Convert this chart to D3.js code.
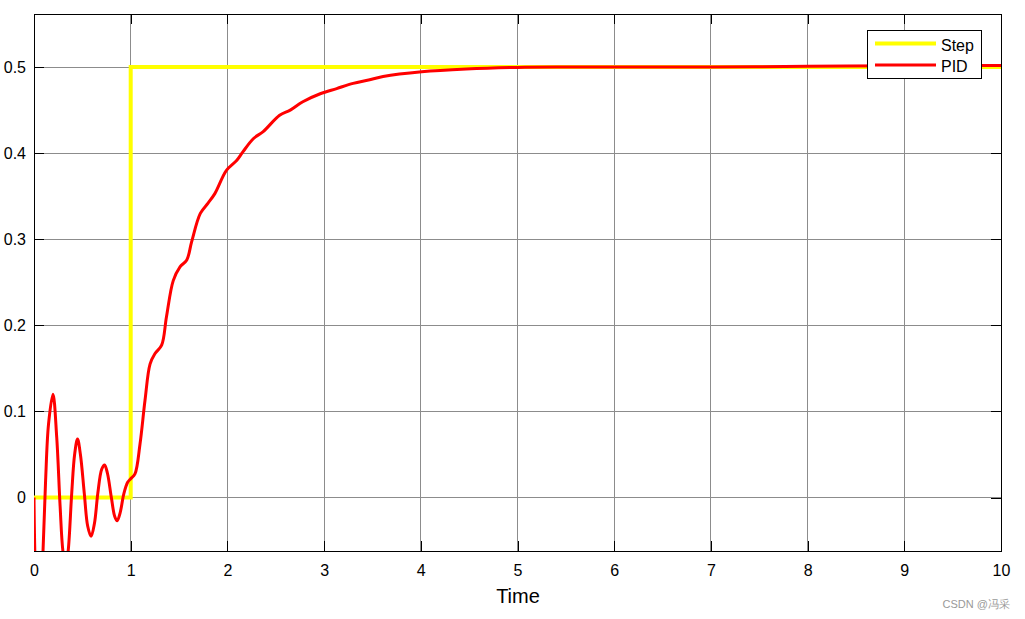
<!DOCTYPE html>
<html><head><meta charset="utf-8">
<script src="https://cdn.jsdelivr.net/npm/d3@7"></script>
<style>body{margin:0;background:#fff}svg{display:block}text{font-family:"Liberation Sans",Arial,sans-serif}</style>
</head><body><svg id="c" width="1025" height="619"></svg>
<script>
const xTicks = [0,1,2,3,4,5,6,7,8,9,10];
const yTicks = [0,0.1,0.2,0.3,0.4,0.5];
const stepT = [0,1,1,10];
const stepV = [0,0,0.5,0.5];
const pidT = [0,0.01,0.035,0.065,0.093,0.12,0.15,0.196,0.235,0.27,0.30,0.33,0.355,0.39,0.42,0.45,0.48,0.52,0.555,0.59,0.625,0.66,0.70,0.73,0.76,0.80,0.835,0.86,0.89,0.93,0.97,1.0,1.044,1.096,1.148,1.2,1.25,1.32,1.37,1.44,1.51,1.58,1.63,1.72,1.80,1.87,1.99,2.10,2.16,2.27,2.37,2.54,2.65,2.78,2.96,3.13,3.30,3.46,3.61,4.01,4.47,5.0,5.5,6.0,7.0,8.0,9.0,10.0];
const pidV = [0,-0.07,-0.15,-0.18,-0.063,0.02,0.085,0.12,0.07,-0.01,-0.063,-0.08,-0.06,0.005,0.05,0.068,0.05,0.005,-0.033,-0.045,-0.03,0.005,0.033,0.038,0.028,0.0,-0.022,-0.027,-0.018,0.005,0.018,0.022,0.0275,0.062,0.113,0.155,0.167,0.177,0.21,0.252,0.268,0.276,0.297,0.33,0.342,0.353,0.380,0.392,0.4015,0.417,0.425,0.444,0.45,0.4597,0.469,0.475,0.481,0.485,0.489,0.4945,0.4977,0.4996,0.5,0.5,0.5,0.5008,0.5015,0.5018];
const seriesNames = ["Step","PID"];
const seriesColors = ["#ffff00","#ff0000"];

const svg = d3.select("#c");
const L=34,R=1001,T=14,B=551;
const x = d3.scaleLinear().domain([0,10]).range([L,R]);
const y = d3.scaleLinear().domain([-0.062,0.5616]).range([B,T]);

svg.append("defs").append("clipPath").attr("id","clip").append("rect")
  .attr("x",L).attr("y",T).attr("width",R-L).attr("height",B-T);

// grid
const g = svg.append("g");
g.selectAll(".gx").data(xTicks.slice(1,-1)).join("line")
  .attr("x1",d=>x(d)).attr("x2",d=>x(d)).attr("y1",T).attr("y2",B)
  .attr("stroke","#8c8c8c").attr("stroke-width",1).attr("shape-rendering","crispEdges");
g.selectAll(".gy").data(yTicks).join("line")
  .attr("y1",d=>y(d)).attr("y2",d=>y(d)).attr("x1",L).attr("x2",R)
  .attr("stroke","#8c8c8c").attr("stroke-width",1).attr("shape-rendering","crispEdges");

// axes (ticks inside on all sides)
const tl = 10;
const ax = svg.append("g");
ax.append("g").attr("transform",`translate(0,${B})`)
  .call(d3.axisBottom(x).tickValues(xTicks).tickSize(-tl).tickPadding(14).tickFormat(d3.format("d")));
ax.append("g").attr("transform",`translate(0,${T})`)
  .call(d3.axisTop(x).tickValues(xTicks).tickSize(-tl).tickFormat(""));
ax.append("g").attr("transform",`translate(${L},0)`)
  .call(d3.axisLeft(y).tickValues(yTicks).tickSize(-tl).tickPadding(8).tickFormat(d=>d===0?"0":d3.format(".1f")(d)));
ax.append("g").attr("transform",`translate(${R},0)`)
  .call(d3.axisRight(y).tickValues(yTicks).tickSize(-tl).tickFormat(""));
ax.selectAll(".domain").remove();
ax.selectAll(".tick line").attr("stroke","#000").attr("shape-rendering","crispEdges");
ax.selectAll(".tick text").attr("font-size",16).attr("fill","#000").attr("font-family","Liberation Sans, Arial, sans-serif");
svg.append("rect").attr("x",L).attr("y",T).attr("width",R-L).attr("height",B-T)
  .attr("fill","none").attr("stroke","#000").attr("stroke-width",1).attr("shape-rendering","crispEdges");

// lines
const lines = svg.append("g").attr("clip-path","url(#clip)");
const stepData = stepT.map((t,i)=>[t,stepV[i]]);
const pidData = pidT.map((t,i)=>[t,pidV[i]]);
lines.append("path").datum(stepData)
  .attr("d",d3.line().x(d=>x(d[0])).y(d=>y(d[1])))
  .attr("fill","none").attr("stroke",seriesColors[0]).attr("stroke-width",4);
lines.append("path").datum(pidData)
  .attr("d",d3.line().x(d=>x(d[0])).y(d=>y(d[1])).curve(d3.curveCatmullRom.alpha(0.5)))
  .attr("fill","none").attr("stroke",seriesColors[1]).attr("stroke-width",3).attr("stroke-linejoin","round");

// legend
const lg = svg.append("g");
lg.append("rect").attr("x",867.5).attr("y",30.5).attr("width",114).attr("height",48)
  .attr("fill","#fff").attr("stroke","#000").attr("stroke-width",1);
seriesNames.forEach((n,i)=>{
  const yy = 43.5 + i*21.5;
  lg.append("line").attr("x1",875).attr("x2",936).attr("y1",yy).attr("y2",yy)
    .attr("stroke",seriesColors[i]).attr("stroke-width",i===0?4:3);
  lg.append("text").attr("x",941).attr("y",yy+7).attr("font-size",16).attr("fill","#000").text(n);
});

// x label
svg.append("text").attr("x",518).attr("y",603).attr("text-anchor","middle")
  .attr("font-size",20).attr("fill","#000").text("Time");

// watermark
svg.append("text").attr("x",1010).attr("y",608).attr("text-anchor","end")
  .attr("font-size",11).attr("fill","#999").attr("font-family","Noto Sans CJK SC, sans-serif").text("CSDN @冯采");
</script></body></html>
